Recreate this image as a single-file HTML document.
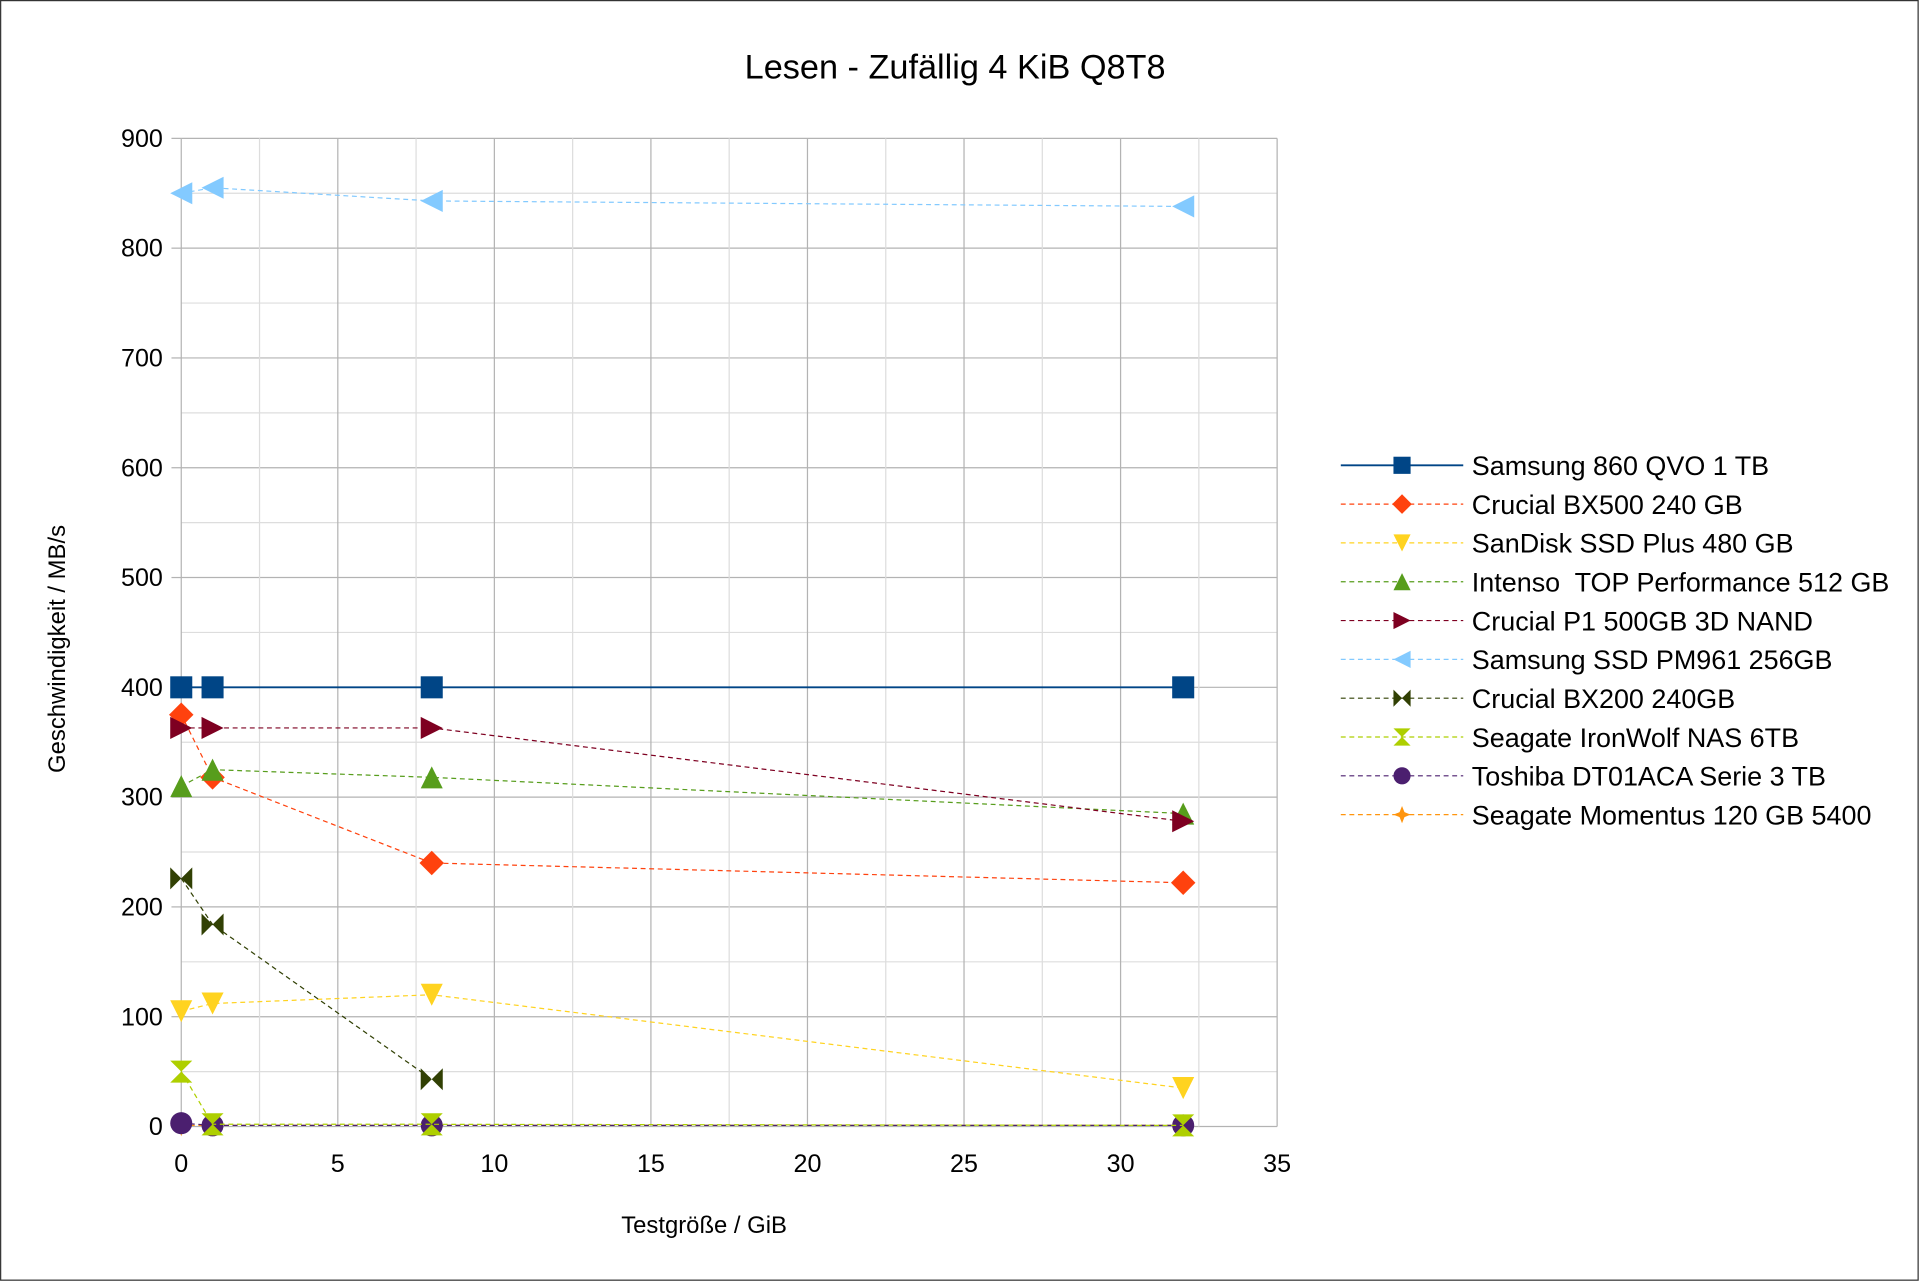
<!DOCTYPE html>
<html><head><meta charset="utf-8"><style>html,body{margin:0;padding:0;background:#fff}svg{display:block;font-family:"Liberation Sans",sans-serif}</style></head>
<body>
<svg id="c" width="1920" height="1282" viewBox="0 0 1568 1047">
<rect x="0.5" y="0.5" width="1566" height="1045" fill="#fff" stroke="#333"/>
<text x="780" y="64" text-anchor="middle" font-size="28">Lesen - Zufällig 4 KiB Q8T8</text>
<g id="grid"></g><g id="axes"></g><g id="series"></g><g id="legend"></g>
<text x="575" y="1007" text-anchor="middle" font-size="19.5">Testgröße / GiB</text>
<text transform="translate(53,530) rotate(-90)" text-anchor="middle" font-size="19.5">Geschwindigkeit / MB/s</text>
</svg>
<script>
const xs=[0,1,8,32];
const seriesNames=["Samsung 860 QVO 1 TB","Crucial BX500 240 GB","SanDisk SSD Plus 480 GB","Intenso  TOP Performance 512 GB","Crucial P1 500GB 3D NAND","Samsung SSD PM961 256GB","Crucial BX200 240GB","Seagate IronWolf NAS 6TB","Toshiba DT01ACA Serie 3 TB","Seagate Momentus 120 GB 5400"];
const vQVO=[400,400,400,400];
const vBX500=[375,318,240,222];
const vSanDisk=[105,112,120,35];
const vIntenso=[310,325,318,285];
const vP1=[363,363,363,278];
const vPM961=[850,855,843,838];
const vBX200=[226,184,43,null];
const vIronWolf=[50,2,2,1];
const vToshiba=[3,1,1,1];
const vMomentus=[1,1,1,1];
const xTicks=[0,5,10,15,20,25,30,35];
const yTicks=[0,100,200,300,400,500,600,700,800,900];
const values=[vQVO,vBX500,vSanDisk,vIntenso,vP1,vPM961,vBX200,vIronWolf,vToshiba,vMomentus];
const colors=["#004586","#ff420e","#ffd320","#579d1c","#7e0021","#83caff","#314004","#aecf00","#4b1f6f","#ff950e"];
const markers=["square","diamond","down","up","right","left","bowtie","hourglass","circle","star"];
const drawOrder=[9,8,0,1,2,3,4,5,6,7];
const X0=148,X1=1043,Y0=920,Y1=113;
const sx=v=>X0+(X1-X0)*v/35, sy=v=>Y0-(Y0-Y1)*v/900;
const NS="http://www.w3.org/2000/svg";
function mk(p,t,a){const e=document.createElementNS(NS,t);for(const k in a)e.setAttribute(k,a[k]);p.appendChild(e);return e;}
const grid=document.getElementById('grid'),axes=document.getElementById('axes'),ser=document.getElementById('series'),leg=document.getElementById('legend');
for(let v=0;v<=900;v+=50){const l=mk(grid,'line',{x1:X0,x2:X1,y1:sy(v),y2:sy(v),stroke:v%100?'#ddd':'#b3b3b3'});

}
for(let v=0;v<=35;v+=2.5){const l=mk(grid,'line',{x1:sx(v),x2:sx(v),y1:Y1,y2:Y0,stroke:v%5?'#ddd':'#b3b3b3'});

}
yTicks.forEach(v=>{const t=mk(axes,'text',{x:133,y:sy(v)+7,'text-anchor':'end','font-size':20.5});t.textContent=v;


const tk=mk(axes,'line',{x1:X0-8,x2:X0,y1:sy(v),y2:sy(v),stroke:'#b3b3b3'});

});
xTicks.forEach(v=>{const t=mk(axes,'text',{x:sx(v),y:957,'text-anchor':'middle','font-size':20.5});t.textContent=v;

});
function marker(p,type,x,y,c,s){let e;s=s||9;
if(type=='square')e=mk(p,'rect',{x:x-s,y:y-s,width:2*s,height:2*s,fill:c});
else if(type=='circle')e=mk(p,'circle',{cx:x,cy:y,r:s,fill:c});
else{let pts;
if(type=='diamond')pts=[[0,-s-1],[s+1,0],[0,s+1],[-s-1,0]];
if(type=='down')pts=[[-s,-s],[s,-s],[0,s]];
if(type=='up')pts=[[-s,s],[s,s],[0,-s]];
if(type=='right')pts=[[-s,-s],[s,0],[-s,s]];
if(type=='left')pts=[[s,-s],[-s,0],[s,s]];
if(type=='bowtie')pts=[[-s,-s],[0,0],[s,-s],[s,s],[0,0],[-s,s]];
if(type=='hourglass')pts=[[-s,-s],[s,-s],[0,0],[s,s],[-s,s],[0,0]];
if(type=='star')pts=[[0,-s],[2,-2],[s,0],[2,2],[0,s],[-2,2],[-s,0],[-2,-2]];
e=mk(p,'polygon',{points:pts.map(q=>(x+q[0])+','+(y+q[1])).join(' '),fill:c});}
return e;}
drawOrder.forEach(i=>{const vals=values[i];const g=mk(ser,'g',{});


const pts=[];vals.forEach((v,j)=>{if(v!==null)pts.push([sx(xs[j]),sy(v)]);});
const pl=mk(g,'polyline',{points:pts.map(p=>p.join(',')).join(' '),fill:'none',stroke:colors[i],'stroke-width':i==0?1.5:1,'stroke-dasharray':i==0?'none':'4,3'});


pts.forEach(p=>{const m=marker(g,markers[i],p[0],p[1],colors[i]);

});});
values.forEach((vals,i)=>{
const ly=380+i*31.7;const lg=mk(leg,'g',{});


mk(lg,'line',{x1:1095,x2:1195,y1:ly,y2:ly,stroke:colors[i],'stroke-width':i==0?1.5:1,'stroke-dasharray':i==0?'none':'4,3'});
marker(lg,markers[i],1145,ly,colors[i],7);
const t=mk(lg,'text',{x:1202,y:ly+8,'font-size':22});t.textContent=seriesNames[i];t.style.whiteSpace='pre';});
</script>
</body></html>
